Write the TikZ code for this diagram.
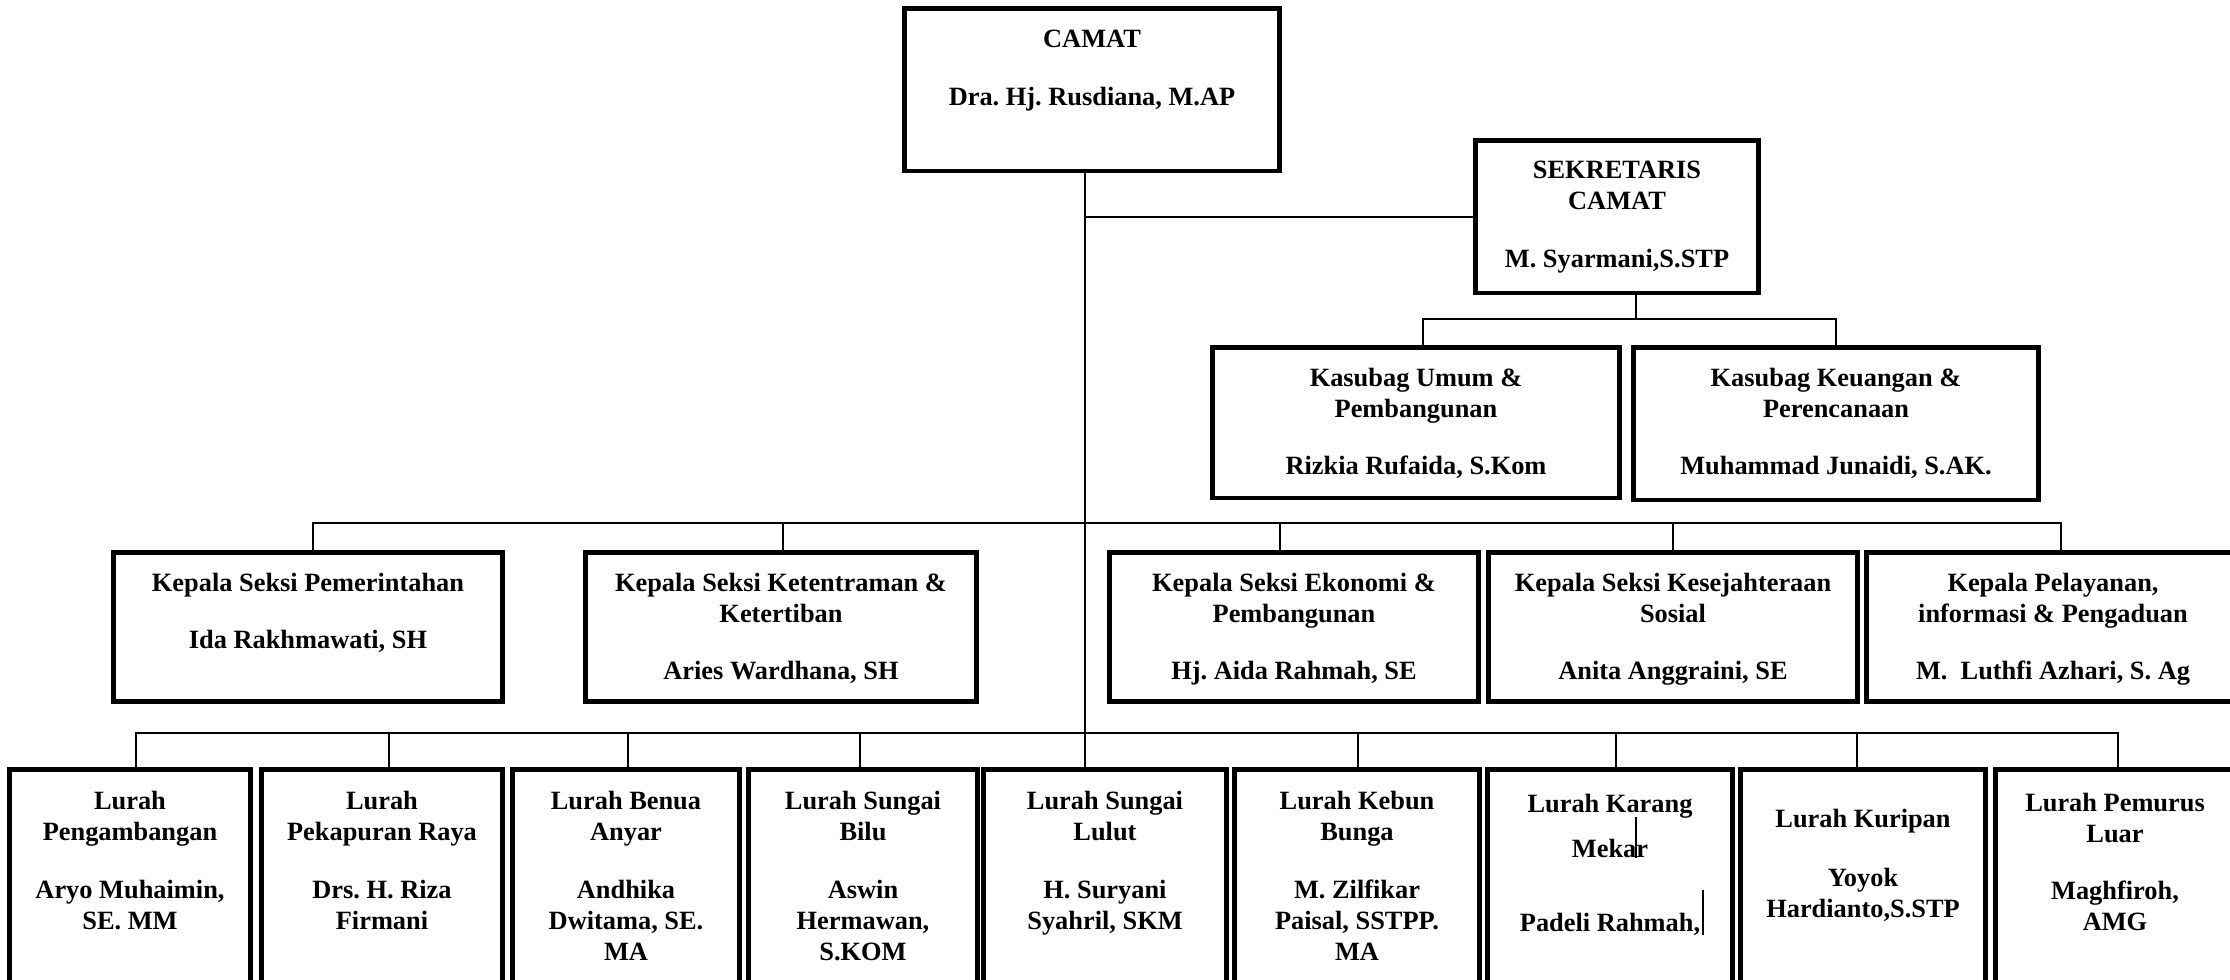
\documentclass[tikz,border=0pt]{standalone}
\usepackage{fontspec}
\setmainfont{Liberation Serif}
\usetikzlibrary{positioning}
\frenchspacing

\tikzset{
  kotak/.style={draw, line width=1.4pt, inner sep=0pt, outer sep=0pt},
  isi/.style={align=center, inner sep=0pt, font=\fontsize{7.5}{8.8}\selectfont\bfseries},
  garis/.style={line width=0.55pt}
}

\begin{document}
\begin{tikzpicture}[x=0.01cm,y=-0.01cm]
\useasboundingbox (0,0) rectangle (2230,980);

% camat dan sekretaris
\node[kotak, minimum width=3.75cm, minimum height=1.62cm] (camat) at (1092,90) {};
\node[isi, below=0.2cm of camat.north] (tcamat) {CAMAT\\[0.27cm]Dra. Hj. Rusdiana, M.AP};
\node[kotak, minimum width=2.82cm, minimum height=1.52cm] (sekcam) at (1617,217) {};
\node[isi, below=0.19cm of sekcam.north] (tsekcam) {SEKRETARIS\\CAMAT\\[0.27cm]M. Syarmani,S.STP};

% kasubag
\node[kotak, minimum width=4.06cm, minimum height=1.50cm] (umum) at (1416,423) {};
\node[isi, below=0.2cm of umum.north] (tumum) {Kasubag Umum \&\\Pembangunan\\[0.26cm]Rizkia Rufaida, S.Kom};
\node[kotak, minimum width=4.05cm, minimum height=1.52cm] (keu) at (1836,424) {};
\node[isi, below=0.2cm of keu.north] (tkeu) {Kasubag Keuangan \&\\Perencanaan\\[0.26cm]Muhammad Junaidi, S.AK.};

% kepala seksi
\node[kotak, minimum width=3.88cm, minimum height=1.49cm] (pem) at (308,627) {};
\node[isi, below=0.2cm of pem.north] (tpem) {Kepala Seksi Pemerintahan\\[0.26cm]Ida Rakhmawati, SH};
\node[kotak, minimum width=3.91cm, minimum height=1.49cm] (ket) at (781,627) {};
\node[isi, below=0.2cm of ket.north] (tket) {Kepala Seksi Ketentraman \&\\Ketertiban\\[0.26cm]Aries Wardhana, SH};
\node[kotak, minimum width=3.69cm, minimum height=1.49cm] (eko) at (1294,627) {};
\node[isi, below=0.2cm of eko.north] (teko) {Kepala Seksi Ekonomi \&\\Pembangunan\\[0.26cm]Hj. Aida Rahmah, SE};
\node[kotak, minimum width=3.69cm, minimum height=1.49cm] (kes) at (1673,627) {};
\node[isi, below=0.2cm of kes.north] (tkes) {Kepala Seksi Kesejahteraan\\Sosial\\[0.26cm]Anita Anggraini, SE};
\node[kotak, minimum width=3.72cm, minimum height=1.49cm] (pel) at (2053,627) {};
\node[isi, below=0.2cm of pel.north] (tpel) {Kepala Pelayanan,\\informasi \& Pengaduan\\[0.26cm]M.\ \ Luthfi Azhari, S. Ag};

% lurah
\node[kotak, minimum width=2.40cm, minimum height=2.20cm] (l1) at (130,880) {};
\node[isi, below=0.21cm of l1.north] (tl1) {Lurah\\Pengambangan\\[0.27cm]Aryo Muhaimin,\\SE. MM};
\node[kotak, minimum width=2.40cm, minimum height=2.20cm] (l2) at (382,880) {};
\node[isi, below=0.21cm of l2.north] (tl2) {Lurah\\Pekapuran Raya\\[0.27cm]Drs. H. Riza\\Firmani};
\node[kotak, minimum width=2.27cm, minimum height=2.20cm] (l3) at (626,880) {};
\node[isi, below=0.21cm of l3.north] (tl3) {Lurah Benua\\Anyar\\[0.27cm]Andhika\\Dwitama, SE.\\MA};
\node[kotak, minimum width=2.28cm, minimum height=2.20cm] (l4) at (863,880) {};
\node[isi, below=0.21cm of l4.north] (tl4) {Lurah Sungai\\Bilu\\[0.27cm]Aswin\\Hermawan,\\S.KOM};
\node[kotak, minimum width=2.43cm, minimum height=2.20cm] (l5) at (1105,880) {};
\node[isi, below=0.21cm of l5.north] (tl5) {Lurah Sungai\\Lulut\\[0.27cm]H. Suryani\\Syahril, SKM};
\node[kotak, minimum width=2.44cm, minimum height=2.20cm] (l6) at (1357,880) {};
\node[isi, below=0.21cm of l6.north] (tl6) {Lurah Kebun\\Bunga\\[0.27cm]M. Zilfikar\\Paisal, SSTPP.\\MA};
\node[kotak, minimum width=2.44cm, minimum height=2.20cm] (l7) at (1610,880) {};
\node[isi, below=0.24cm of l7.north] (tl7) {Lurah Karang\\[0.14cm]Mekar\\[0.43cm]Padeli Rahmah,};
\node[kotak, minimum width=2.44cm, minimum height=2.20cm] (l8) at (1863,880) {};
\node[isi, below=0.39cm of l8.north] (tl8) {Lurah Kuripan\\[0.28cm]Yoyok\\Hardianto,S.STP};
\node[kotak, minimum width=2.38cm, minimum height=2.20cm] (l9) at (2115,880) {};
\node[isi, below=0.23cm of l9.north] (tl9) {Lurah Pemurus\\Luar\\[0.26cm]Maghfiroh,\\AMG};

% titik simpul garis
\coordinate (pusat) at (1085,523);
\coordinate (sek) at (1636,319);
\coordinate (lbus) at (1085,733);

% garis komando
\draw[garis] (camat.south -| pusat) -- (l5.north -| pusat);
\draw[garis] (pusat |- sekcam.west) -- (sekcam.west);
\draw[garis] (sekcam.south -| sek) -- (sek);
\draw[garis] ([xshift=0.07cm]umum.north) -- ([xshift=0.07cm]umum.north |- sek) -- (keu.north |- sek) -- (keu.north);
\draw[garis] ([xshift=0.05cm]pem.north) -- ([xshift=0.05cm]pem.north |- pusat) -- ([xshift=0.08cm]pel.north |- pusat) -- ([xshift=0.08cm]pel.north);
\foreach \k/\g in {ket/0.02,eko/-0.14,kes/0}
  \draw[garis] ([xshift=\g cm]\k.north) -- ([xshift=\g cm]\k.north |- pusat);
\draw[garis] ([xshift=0.06cm]l1.north) -- ([xshift=0.06cm]l1.north |- lbus) -- ([xshift=0.03cm]l9.north |- lbus) -- ([xshift=0.03cm]l9.north);
\foreach \k/\g in {l2/0.07,l3/0.02,l4/-0.03,l6/0.01,l7/0.06,l8/-0.06}
  \draw[garis] ([xshift=\g cm]\k.north) -- ([xshift=\g cm]\k.north |- lbus);

% sisa kursor pada kotak Karang Mekar
\draw[line width=0.3pt] (1636,817) -- (1636,858);
\draw[line width=0.3pt] (1703,890) -- (1703,935);
\end{tikzpicture}
\end{document}
